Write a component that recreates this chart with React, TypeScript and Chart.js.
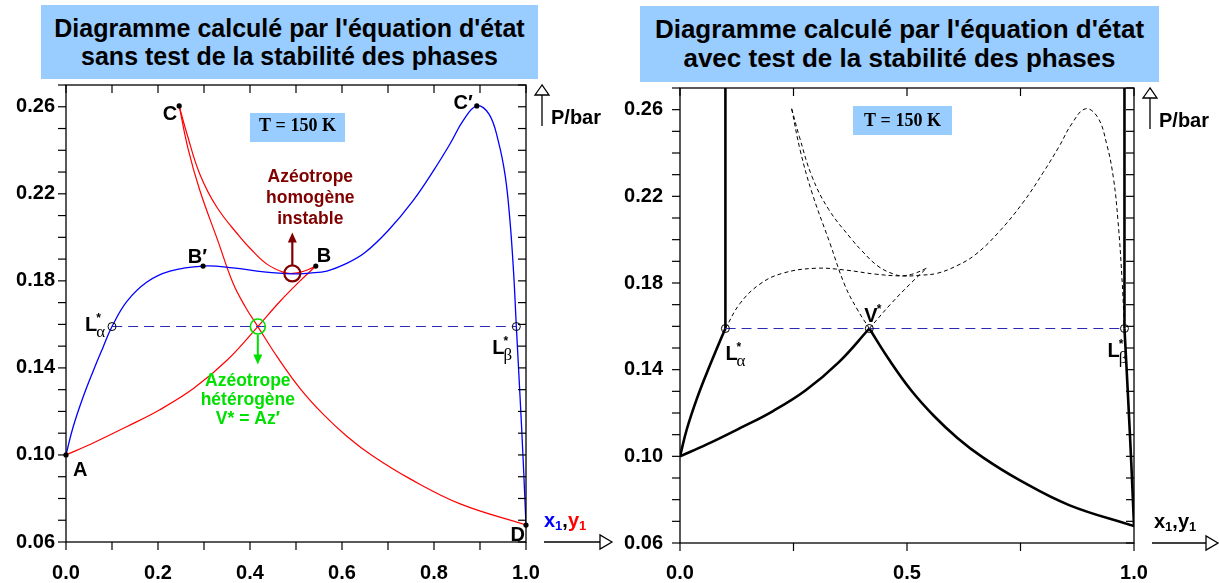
import React, { useEffect, useRef } from "react";
import { Chart, registerables } from "chart.js";

Chart.register(...registerables);

const SANS = '"Liberation Sans", Arial, Helvetica, sans-serif';
const SERIF = '"Liberation Serif", "Times New Roman", serif';

// ---------- axes ----------
const pMin = 0.06;
const pMax = 0.27;
const pTickStep = 0.01;
const pLabelStep = 0.04;
const leftXTickStep = 0.1;
const leftXLabelStep = 0.2;
const rightXTickStep = 0.25;
const rightXLabelStep = 0.5;

// ---------- texts ----------
const leftTitle = ["Diagramme calculé par l'équation d'état", "sans test de la stabilité des phases"];
const rightTitle = ["Diagramme calculé par l'équation d'état", "avec test de la stabilité des phases"];
const tempLabel = "T = 150 K";
const pAxisLabel = "P/bar";
const homLabel = ["Azéotrope", "homogène", "instable"];
const hetLabel = ["Azéotrope", "hétérogène", "V* = Az′"];

// ---------- liquid curve x1 (A → L*α → B′ → C′ → L*β → D) ----------
const liquidX = [0, 0.015, 0.037, 0.059, 0.08, 0.1, 0.132, 0.176, 0.226, 0.298, 0.363, 0.43, 0.492, 0.53, 0.567, 0.61, 0.65, 0.7, 0.755, 0.8, 0.835, 0.863, 0.893, 0.92, 0.94, 0.955, 0.965, 0.973, 0.979, 0.987, 0.994, 1.0];
const liquidP = [0.1, 0.1125, 0.1265, 0.1385, 0.1492, 0.159, 0.1705, 0.1795, 0.1845, 0.1868, 0.186, 0.1841, 0.1832, 0.1836, 0.1845, 0.188, 0.193, 0.203, 0.217, 0.231, 0.243, 0.2535, 0.2604, 0.2565, 0.244, 0.228, 0.208, 0.184, 0.159, 0.127, 0.097, 0.0678];

// ---------- vapour curve y1, three branches ----------
// A → V* → B
const vapourLowerX = [0, 0.059, 0.132, 0.204, 0.277, 0.35, 0.417, 0.465, 0.509, 0.543];
const vapourLowerP = [0.1, 0.1055, 0.113, 0.1208, 0.1305, 0.1435, 0.159, 0.1705, 0.18, 0.1868];
// C → minimum → B
const vapourUpperX = [0.246, 0.263, 0.291, 0.328, 0.378, 0.4, 0.436, 0.472, 0.492, 0.515, 0.543];
const vapourUpperP = [0.2604, 0.2475, 0.229, 0.2138, 0.2002, 0.195, 0.1878, 0.184, 0.1834, 0.1843, 0.1868];
// C → V* → D
const vapourSteepX = [0.246, 0.265, 0.291, 0.33, 0.363, 0.39, 0.417, 0.46, 0.509, 0.56, 0.611, 0.667, 0.748, 0.857, 1.0];
const vapourSteepP = [0.2604, 0.241, 0.2215, 0.1985, 0.179, 0.168, 0.159, 0.1448, 0.1305, 0.1185, 0.1085, 0.0995, 0.089, 0.0775, 0.0678];

// ---------- special points ----------
const tieP = 0.159;
const lAlphaX = 0.1;
const lBetaX = 0.979;
const vStarX = 0.417;
const homAzX = 0.492;
const homAzP = 0.1834;
const namedLabels = ["A", "B′", "B", "C", "C′", "D"];
const namedX = [0, 0.298, 0.543, 0.246, 0.893, 1.0];
const namedP = [0.1, 0.1868, 0.1868, 0.2604, 0.2604, 0.0678];

// ---------- colours ----------
const BLUE = "#0000ff";
const RED = "#ff0000";
const TIE = "#2a2ab4";
const GREEN = "#00e000";
const BROWN = "#800000";
const BOXBLUE = "#99ccff";

const pts = (xs: number[], ps: number[], from = 0, to = xs.length - 1) =>
  xs.slice(from, to + 1).map((x, i) => ({ x, y: ps[from + i] }));

const near = (v: number, step: number, origin = 0) => {
  const k = (v - origin) / step;
  return Math.abs(k - Math.round(k)) < 1e-6;
};

// label offsets for named points (style only)
const namedStyle: Record<string, { dx: number; dy: number; align: CanvasTextAlign }> = {
  "A": { dx: 7, dy: 21, align: "left" },
  "B′": { dx: 4, dy: -3, align: "right" },
  "B": { dx: 1, dy: -4, align: "left" },
  "C": { dx: -2, dy: 14, align: "right" },
  "C′": { dx: -4, dy: 3, align: "right" },
  "D": { dx: -1, dy: 16, align: "right" },
};

function line(ctx: CanvasRenderingContext2D, x1: number, y1: number, x2: number, y2: number) {
  ctx.beginPath();
  ctx.moveTo(x1, y1);
  ctx.lineTo(x2, y2);
  ctx.stroke();
}

function starLabel(ctx: CanvasRenderingContext2D, x: number, baseline: number, main: string, sub?: string) {
  ctx.textAlign = "left";
  ctx.textBaseline = "alphabetic";
  ctx.fillStyle = "#000";
  ctx.font = `bold 20px ${SANS}`;
  ctx.fillText(main, x, baseline);
  const w = ctx.measureText(main).width;
  ctx.font = `bold 12px ${SANS}`;
  ctx.fillText("*", x + w - 1, baseline - 9);
  if (sub) {
    ctx.font = `17px ${SERIF}`;
    ctx.fillText(sub, x + w - 1, baseline + 6);
  }
}

function x1y1Label(ctx: CanvasRenderingContext2D, x: number, baseline: number, coloured: boolean) {
  const parts: [string, string, boolean][] = [
    ["x", coloured ? BLUE : "#000", false],
    ["1", coloured ? BLUE : "#000", true],
    [",", "#000", false],
    ["y", coloured ? RED : "#000", false],
    ["1", coloured ? RED : "#000", true],
  ];
  ctx.textAlign = "left";
  ctx.textBaseline = "alphabetic";
  let cx = x;
  for (const [t, col, sub] of parts) {
    ctx.font = sub ? `bold 13px ${SANS}` : `bold 20px ${SANS}`;
    ctx.fillStyle = col;
    ctx.fillText(t, cx, sub ? baseline + 3 : baseline);
    cx += ctx.measureText(t).width;
  }
}

const annotPlugin = {
  id: "annot",
  afterDatasetsDraw(chart: any, _args: any, opts: any) {
    const { ctx, chartArea: a, scales } = chart;
    const xs = scales.x;
    const ys = scales.y;
    const px = (v: number) => xs.getPixelForValue(v);
    const py = (v: number) => ys.getPixelForValue(v);
    ctx.save();

    // frame + ticks (y ticks point left, x ticks point down, on both sides)
    ctx.strokeStyle = "#000";
    ctx.lineWidth = 1.3;
    ctx.strokeRect(a.left, a.top, a.right - a.left, a.bottom - a.top);
    ctx.lineWidth = 1.2;
    for (const t of ys.ticks) {
      const y = py(t.value);
      line(ctx, a.left - 8, y, a.left, y);
      line(ctx, a.right - 8, y, a.right, y);
    }
    for (const t of xs.ticks) {
      const x = px(t.value);
      line(ctx, x, a.bottom, x, a.bottom + 8);
      line(ctx, x, a.top, x, a.top + 8);
    }

    // temperature box
    const tb = opts.tBox;
    ctx.fillStyle = BOXBLUE;
    ctx.fillRect(a.left + tb.dx, a.top + tb.dy, tb.w, tb.h);
    ctx.fillStyle = "#000";
    ctx.font = `bold 18px ${SERIF}`;
    ctx.textAlign = "center";
    ctx.textBaseline = "alphabetic";
    ctx.fillText(tempLabel, a.left + tb.dx + tb.w / 2, a.top + tb.dy + tb.base);

    // P/bar arrow
    const ax = a.right + 16;
    ctx.strokeStyle = "#000";
    ctx.lineWidth = 1.3;
    line(ctx, ax, a.top + 41, ax, a.top + 10);
    ctx.beginPath();
    ctx.moveTo(ax, a.top);
    ctx.lineTo(ax - 7, a.top + 10);
    ctx.lineTo(ax + 7, a.top + 10);
    ctx.closePath();
    ctx.fillStyle = "#fff";
    ctx.fill();
    ctx.stroke();
    ctx.fillStyle = "#000";
    ctx.font = `bold 20px ${SANS}`;
    ctx.textAlign = "left";
    ctx.fillText(pAxisLabel, a.right + 25, a.top + 39);

    // x arrow
    const tip = a.right + opts.xArrowTip;
    line(ctx, a.right + 18, a.bottom, tip - 12, a.bottom);
    ctx.beginPath();
    ctx.moveTo(tip, a.bottom);
    ctx.lineTo(tip - 12, a.bottom - 7);
    ctx.lineTo(tip - 12, a.bottom + 7);
    ctx.closePath();
    ctx.fillStyle = "#fff";
    ctx.fill();
    ctx.stroke();
    x1y1Label(ctx, a.right + opts.x1y1Dx, a.bottom - 15, opts.variant === "left");

    const la = [px(lAlphaX), py(tieP)];
    const lb = [px(lBetaX), py(tieP)];
    if (opts.variant === "left") {
      // named points
      ctx.fillStyle = "#000";
      ctx.font = `bold 20px ${SANS}`;
      ctx.textBaseline = "alphabetic";
      namedLabels.forEach((name, i) => {
        const s = namedStyle[name];
        ctx.textAlign = s.align;
        ctx.fillText(name, px(namedX[i]) + s.dx, py(namedP[i]) + s.dy);
      });
      starLabel(ctx, la[0] - 27, la[1] + 4, "L", "α");
      starLabel(ctx, lb[0] - 24, lb[1] + 27, "L", "β");

      // homogeneous azeotrope arrow + text
      const hx = px(homAzX);
      const hy = py(homAzP);
      ctx.strokeStyle = BROWN;
      ctx.fillStyle = BROWN;
      ctx.lineWidth = 2.2;
      line(ctx, hx, hy - 8, hx, hy - 32);
      ctx.beginPath();
      ctx.moveTo(hx, hy - 41);
      ctx.lineTo(hx - 4.5, hy - 31);
      ctx.lineTo(hx + 4.5, hy - 31);
      ctx.closePath();
      ctx.fill();
      ctx.font = `bold 17.5px ${SANS}`;
      ctx.textAlign = "center";
      homLabel.forEach((t, i) => ctx.fillText(t, hx + 18, hy - 91 + i * 20.7));

      // heterogeneous azeotrope arrow + text
      const gx = px(vStarX);
      const gy = py(tieP);
      ctx.strokeStyle = GREEN;
      ctx.fillStyle = GREEN;
      ctx.lineWidth = 2;
      line(ctx, gx, gy + 8, gx, gy + 29);
      ctx.beginPath();
      ctx.moveTo(gx, gy + 38);
      ctx.lineTo(gx - 4.5, gy + 28);
      ctx.lineTo(gx + 4.5, gy + 28);
      ctx.closePath();
      ctx.fill();
      ctx.font = `bold 17.5px ${SANS}`;
      ctx.textAlign = "center";
      hetLabel.forEach((t, i) => ctx.fillText(t, gx - 10, gy + 59 + i * 19.3));
    } else {
      const vs = [px(vStarX), py(tieP)];
      starLabel(ctx, la[0], la[1] + 31, "L", "α");
      starLabel(ctx, vs[0] - 5, vs[1] - 7, "V");
      starLabel(ctx, lb[0] - 17, lb[1] + 28, "L", "β");
    }
    ctx.restore();
  },
};

function axisScales(xStep: number, xLabelStep: number, yWidth: number, yPad: number, xHeight: number, xPad: number) {
  const font = { family: SANS, size: 20, weight: "bold" as const };
  return {
    x: {
      type: "linear" as const,
      min: 0,
      max: 1,
      position: "bottom" as const,
      grid: { display: false, drawTicks: false },
      border: { display: false },
      ticks: {
        stepSize: xStep,
        autoSkip: false,
        maxRotation: 0,
        font,
        color: "#000",
        padding: xPad,
        callback: (v: any) => (near(Number(v), xLabelStep) ? Number(v).toFixed(1) : ""),
      },
      afterFit: (s: any) => {
        s.height = xHeight;
      },
    },
    y: {
      type: "linear" as const,
      min: pMin,
      max: pMax,
      grid: { display: false, drawTicks: false },
      border: { display: false },
      ticks: {
        stepSize: pTickStep,
        autoSkip: false,
        font,
        color: "#000",
        padding: yPad,
        callback: (v: any) => (near(Number(v), pLabelStep, pMin) ? Number(v).toFixed(2) : ""),
      },
      afterFit: (s: any) => {
        s.width = yWidth;
      },
    },
  };
}

const curve = (data: any[], color: string, width: number, dash: number[] = []) => ({
  data,
  showLine: true,
  borderColor: color,
  borderWidth: width,
  borderDash: dash,
  pointRadius: 0,
  tension: 0.4,
  fill: false,
});

const markers = (data: any[], radius: number, color: string, width: number, filled: boolean) => ({
  data,
  showLine: false,
  pointRadius: radius,
  pointBorderColor: color,
  pointBorderWidth: width,
  pointBackgroundColor: filled ? color : "rgba(0,0,0,0)",
  clip: 10,
});

function leftConfig(): any {
  const La = { x: lAlphaX, y: tieP };
  const Lb = { x: lBetaX, y: tieP };
  return {
    type: "scatter",
    data: {
      datasets: [
        markers(pts(namedX, namedP), 2.6, "#000", 0, true),
        markers([La, Lb], 4, "#000", 1, false),
        markers([{ x: vStarX, y: tieP }], 7.5, GREEN, 1.6, false),
        markers([{ x: homAzX, y: homAzP }], 8, BROWN, 2.2, false),
        curve([La, Lb], TIE, 1.1, [10, 6]),
        curve(pts(liquidX, liquidP), BLUE, 1.3),
        curve(pts(vapourLowerX, vapourLowerP), RED, 1.2),
        curve(pts(vapourUpperX, vapourUpperP), RED, 1.2),
        curve(pts(vapourSteepX, vapourSteepP), RED, 1.2),
      ],
    },
    options: {
      responsive: false,
      animation: false,
      devicePixelRatio: 1,
      events: [],
      layout: { padding: { left: 0, top: 85, right: 94, bottom: 0 } },
      plugins: {
        legend: { display: false },
        tooltip: { enabled: false },
        annot: { variant: "left", tBox: { dx: 184, dy: 28, w: 95, h: 29, base: 18 }, xArrowTip: 86, x1y1Dx: 18 },
      },
      scales: axisScales(leftXTickStep, leftXLabelStep, 66, 11, 41, 19),
    },
    plugins: [annotPlugin],
  };
}

function rightConfig(): any {
  const iLa = liquidX.indexOf(lAlphaX);
  const iLb = liquidX.indexOf(lBetaX);
  const iVl = vapourLowerX.indexOf(vStarX);
  const iVs = vapourSteepX.indexOf(vStarX);
  const La = { x: lAlphaX, y: tieP };
  const Lb = { x: lBetaX, y: tieP };
  const V = { x: vStarX, y: tieP };
  const thick = 2.6;
  const dash = [4, 3];
  return {
    type: "scatter",
    data: {
      datasets: [
        markers([La, V, Lb], 4, "#000", 1, false),
        curve([La, Lb], TIE, 1.1, [10, 6]),
        // stable (thick)
        curve(pts(liquidX, liquidP, 0, iLa), "#000", thick),
        curve(pts(liquidX, liquidP, iLb), "#000", thick),
        curve(pts(vapourLowerX, vapourLowerP, 0, iVl), "#000", thick),
        curve(pts(vapourSteepX, vapourSteepP, iVs), "#000", thick),
        curve([La, { x: lAlphaX, y: pMax }], "#000", thick),
        curve([Lb, { x: lBetaX, y: pMax }], "#000", thick),
        // metastable / unstable (dashed)
        curve(pts(liquidX, liquidP, iLa, iLb), "#000", 1, dash),
        curve(pts(vapourLowerX, vapourLowerP, iVl), "#000", 1, dash),
        curve(pts(vapourUpperX, vapourUpperP), "#000", 1, dash),
        curve(pts(vapourSteepX, vapourSteepP, 0, iVs), "#000", 1, dash),
      ],
    },
    options: {
      responsive: false,
      animation: false,
      devicePixelRatio: 1,
      events: [],
      layout: { padding: { left: 0, top: 88, right: 85, bottom: 0 } },
      plugins: {
        legend: { display: false },
        tooltip: { enabled: false },
        annot: { variant: "right", tBox: { dx: 173, dy: 18, w: 99, h: 29, base: 20 }, xArrowTip: 84, x1y1Dx: 20 },
      },
      scales: axisScales(rightXTickStep, rightXLabelStep, 60, 17, 40, 18),
    },
    plugins: [annotPlugin],
  };
}

const titleStyle = (left: number, top: number, width: number, height: number, size: number, lh: number): React.CSSProperties => ({
  position: "absolute",
  left,
  top,
  width,
  height,
  background: BOXBLUE,
  color: "#000",
  fontFamily: SANS,
  fontWeight: "bold",
  fontSize: size,
  lineHeight: `${lh}px`,
  textAlign: "center",
  display: "flex",
  flexDirection: "column",
  justifyContent: "center",
  whiteSpace: "nowrap",
});

export default function App() {
  const leftRef = useRef<HTMLCanvasElement>(null);
  const rightRef = useRef<HTMLCanvasElement>(null);

  useEffect(() => {
    const c1 = new Chart(leftRef.current as HTMLCanvasElement, leftConfig());
    const c2 = new Chart(rightRef.current as HTMLCanvasElement, rightConfig());
    return () => {
      c1.destroy();
      c2.destroy();
    };
  }, []);

  return (
    <div style={{ position: "fixed", left: 0, top: 0, width: 1219, height: 583, background: "#fff", overflow: "hidden" }}>
      <canvas ref={leftRef} width={620} height={583} style={{ position: "absolute", left: 0, top: 0, width: 620, height: 583 }} />
      <canvas ref={rightRef} width={599} height={583} style={{ position: "absolute", left: 620, top: 0, width: 599, height: 583 }} />
      <div style={titleStyle(41, 5, 497, 74, 25, 28)}>
        <div>{leftTitle[0]}</div>
        <div>{leftTitle[1]}</div>
      </div>
      <div style={titleStyle(640, 6, 519, 76, 26, 29)}>
        <div>{rightTitle[0]}</div>
        <div>{rightTitle[1]}</div>
      </div>
    </div>
  );
}
